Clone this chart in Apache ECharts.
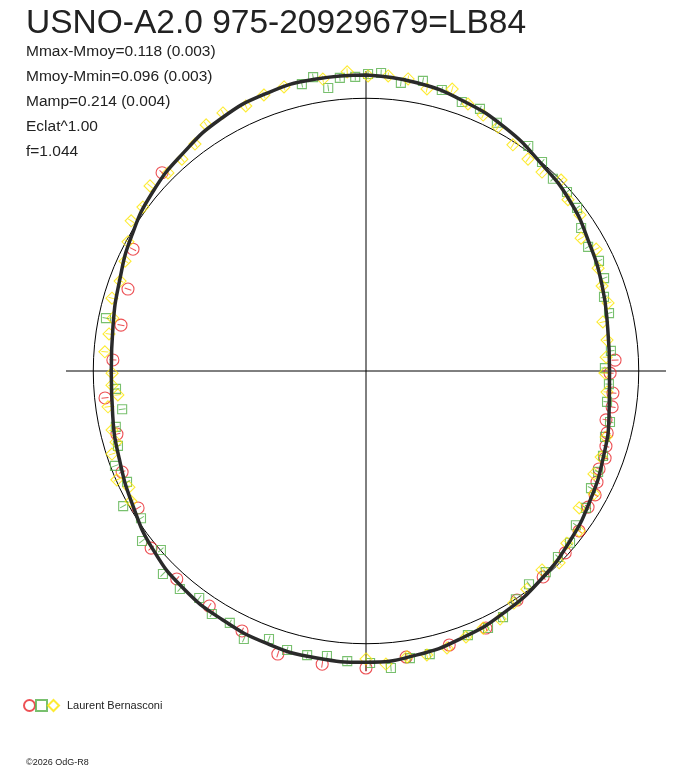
<!DOCTYPE html>
<html>
<head>
<meta charset="utf-8">
<script src="https://cdn.jsdelivr.net/npm/echarts@6/dist/echarts.min.js"></script>
<style>
  html, body { margin: 0; padding: 0; background: #fff; }
  #chart { width: 688px; height: 768px; }
</style>
</head>
<body>
<div id="chart"></div>
<script>
// texts
const titleText = "USNO-A2.0 975-20929679=LB84";
const statLines = [
  "Mmax-Mmoy=0.118 (0.003)",
  "Mmoy-Mmin=0.096 (0.003)",
  "Mamp=0.214 (0.004)",
  "Eclat^1.00",
  "f=1.044"
];
const observer = "Laurent Bernasconi";
const copyright = "\u00a92026 OdG-R8";

// fitted curve: phase angle (deg, clockwise from top) and radius (ref circle = 100)
const curvePhase = [0, 10, 20, 30, 40, 50, 60, 70, 80, 90, 100, 110, 120, 130, 140, 150, 160, 170, 180,
  190, 200, 210, 220, 230, 240, 250, 260, 270, 280, 290, 300, 310, 320, 330, 340, 350, 360];
const curveRadius = [108.5, 107.3, 105.2, 102.7, 99.6, 97.4, 94.4, 92.1, 90.0, 89.3, 90.5, 92.6, 94.9, 97.4,
  99.8, 102.0, 104.0, 105.8, 106.8, 106.8, 106.3, 105.3, 104.1, 101.9, 98.7, 96.1, 94.3, 93.4, 94.2, 96.2,
  99.2, 102.1, 104.3, 106.7, 108.1, 108.6, 108.5];

// observations: [phase angle, radius]
const redObs = [
  [314.2, 104.3], [297.6, 96.4], [289.0, 92.3], [280.6, 91.4], [272.5, 92.9], [264.1, 96.2], [255.8, 94.2],
  [247.5, 96.8], [239.0, 97.5], [230.5, 102.1], [222.3, 103.1], [213.7, 103.6], [205.5, 105.6], [197.3, 108.7],
  [188.5, 108.7], [180.0, 108.9], [172.0, 105.9], [163.1, 105.0], [155.0, 104.0], [146.6, 100.6], [139.3, 99.6],
  [132.4, 98.9], [126.9, 97.7], [121.5, 95.5], [118.4, 95.5], [115.7, 94.0], [112.8, 92.7], [110.0, 93.3],
  [107.4, 92.2], [104.4, 91.3], [101.5, 89.8], [98.3, 91.2], [95.1, 90.9], [90.5, 89.5], [87.5, 91.4]
];
const greenObs = [
  [347.4, 107.8], [349.8, 109.5], [352.4, 104.7], [354.9, 107.9], [357.9, 107.9], [0.4, 108.9], [2.9, 109.4],
  [6.9, 106.4], [11.1, 108.4], [15.1, 106.7], [19.6, 104.7], [23.5, 104.8], [27.8, 102.9], [344.6, 110.3],
  [35.8, 101.7], [40.1, 100.2], [44.2, 98.3], [48.3, 98.7], [52.3, 97.8], [56.4, 94.7], [60.8, 93.3],
  [64.7, 94.5], [68.7, 93.7], [72.7, 91.4], [76.6, 91.6], [85.3, 90.1], [89.3, 87.6], [93.1, 89.2],
  [97.3, 89.1], [101.8, 91.4], [105.4, 90.9], [109.7, 92.3], [113.5, 92.8], [117.5, 93.0], [121.9, 95.0],
  [126.3, 95.5], [130.1, 97.8], [134.1, 98.0], [138.2, 98.9], [142.6, 98.4], [146.7, 100.1], [150.9, 103.3],
  [154.6, 104.3], [158.9, 103.8], [167.3, 106.4], [171.3, 106.5], [175.2, 109.3], [179.2, 107.1],
  [183.7, 106.6], [187.8, 105.5], [191.7, 106.4], [195.8, 106.3], [199.9, 104.5], [204.5, 108.0],
  [208.4, 105.0], [212.4, 105.5], [216.3, 103.3], [220.5, 105.1], [225.0, 105.3], [228.9, 99.8],
  [232.8, 103.1], [236.8, 98.6], [240.9, 101.9], [245.1, 96.6], [249.3, 98.4], [253.2, 95.0], [257.4, 94.0],
  [261.1, 90.5], [265.9, 91.9], [281.5, 97.3]
];
const yellowObs = [
  [319.0, 102.9], [315.0, 102.7], [310.6, 104.3], [306.3, 101.5], [302.6, 102.2], [298.5, 99.3], [294.5, 97.1],
  [290.1, 96.0], [286.0, 96.9], [281.8, 94.8], [278.2, 95.2], [274.2, 96.0], [269.5, 93.1], [266.8, 93.3],
  [264.5, 91.4], [262.1, 95.5], [256.9, 95.6], [254.1, 95.3], [251.9, 98.0], [246.4, 99.7], [243.9, 96.8],
  [241.0, 98.5], [323.0, 104.2], [327.0, 107.6], [331.0, 108.2], [335.6, 106.7], [339.7, 107.9], [343.9, 108.4],
  [347.7, 110.3], [351.6, 108.2], [356.4, 109.9], [0.4, 108.2], [4.3, 108.5], [8.2, 108.2], [12.2, 105.8],
  [17.0, 108.1], [20.9, 104.8], [24.6, 103.2], [28.4, 101.7], [33.0, 98.9], [37.4, 97.8], [41.5, 97.4],
  [45.6, 100.1], [49.7, 97.1], [53.9, 97.1], [58.3, 92.7], [62.1, 95.5], [66.1, 93.1], [70.2, 92.0],
  [74.3, 92.2], [78.3, 88.7], [82.7, 89.1], [86.7, 88.2], [90.5, 87.6], [95.0, 88.7], [105.4, 91.3],
  [110.1, 91.8], [114.3, 91.7], [118.3, 95.0], [122.7, 92.9], [126.9, 97.7], [130.6, 97.0], [134.8, 99.8],
  [138.5, 97.4], [143.6, 99.4], [147.5, 100.9], [151.6, 103.4], [155.5, 103.6], [159.4, 104.2], [163.7, 105.8],
  [167.9, 106.5], [171.8, 105.9], [176.1, 107.7], [180.0, 105.6]
];

const RED = "#e8262b", GREEN = "#56b04a", YELLOW = "#fce600";
const R = 300, RMAX = 110;

const toPolar = (obs) => obs.map(([a, r]) => [r, a]);

function markerSeries(name, obs, symbol, size, color) {
  return {
    name: name,
    type: "scatter",
    coordinateSystem: "polar",
    polarIndex: 0,
    symbol: symbol,
    symbolSize: size,
    itemStyle: { color: "rgba(0,0,0,0)", borderColor: color, borderWidth: 1.1 },
    data: toPolar(obs),
    z: 2,
    silent: true
  };
}

// short radial tick through each marker
function tickSeries(obs, color) {
  return {
    type: "scatter",
    coordinateSystem: "polar",
    polarIndex: 0,
    symbol: "rect",
    symbolSize: [1, 7],
    symbolRotate: (v) => -v[1],
    itemStyle: { color: color },
    data: toPolar(obs),
    z: 2,
    silent: true
  };
}

const chart = echarts.init(document.getElementById("chart"), null, { renderer: "canvas" });

const option = {
  animation: false,
  backgroundColor: "#fff",
  textStyle: { fontFamily: "Liberation Sans, Arial, sans-serif" },
  title: [
    {
      text: titleText,
      left: 26, top: 7,
      padding: 0,
      textStyle: { fontSize: 33.5, fontWeight: "normal", color: "#222", lineHeight: 33 }
    },
    {
      text: statLines.join("\n"),
      left: 26, top: 39,
      padding: 0,
      textStyle: { fontSize: 15.5, fontWeight: "normal", color: "#222", lineHeight: 25 }
    },
    {
      text: observer,
      left: 67, top: 700,
      padding: 0,
      textStyle: { fontSize: 11, fontWeight: "normal", color: "#222", lineHeight: 12 }
    },
    {
      text: copyright,
      left: 26, top: 758,
      padding: 0,
      textStyle: { fontSize: 9, fontWeight: "normal", color: "#222", lineHeight: 10 }
    }
  ],
  legend: {
    left: 23, top: 699,
    padding: 0,
    itemWidth: 11, itemHeight: 11, itemGap: -1,
    formatter: () => "",
    data: ["Session 1", "Session 2", "Session 3"],
    selectedMode: false
  },
  polar: [
    { center: [366, 371], radius: R },
    { center: [366, 371], radius: R * 100 / RMAX }
  ],
  angleAxis: [
    {
      polarIndex: 0, type: "value", min: 0, max: 360, interval: 90,
      startAngle: 90, clockwise: true,
      axisLine: { show: false }, axisTick: { show: false }, axisLabel: { show: false },
      splitLine: { show: true, lineStyle: { color: "#000", width: 1 } }
    },
    {
      polarIndex: 1, type: "value", min: 0, max: 360,
      startAngle: 90, clockwise: true,
      axisLine: { show: true, lineStyle: { color: "#000", width: 1 } },
      axisTick: { show: false }, axisLabel: { show: false }, splitLine: { show: false }
    }
  ],
  radiusAxis: [
    {
      polarIndex: 0, type: "value", min: 0, max: RMAX,
      axisLine: { show: false }, axisTick: { show: false }, axisLabel: { show: false },
      splitLine: { show: false }
    },
    {
      polarIndex: 1, type: "value", min: 0, max: 100,
      axisLine: { show: false }, axisTick: { show: false }, axisLabel: { show: false },
      splitLine: { show: false }
    }
  ],
  series: [
    markerSeries("Session 1", redObs, "circle", 12, RED),
    markerSeries("Session 2", greenObs, "rect", 9, GREEN),
    markerSeries("Session 3", yellowObs, "diamond", 12, YELLOW),
    tickSeries(redObs, RED),
    tickSeries(greenObs, GREEN),
    tickSeries(yellowObs, YELLOW),
    {
      type: "line",
      coordinateSystem: "polar",
      polarIndex: 0,
      smooth: true,
      showSymbol: false,
      lineStyle: { color: "#2a2a2a", width: 3.5 },
      data: curvePhase.map((a, i) => [curveRadius[i], a]),
      z: 3,
      silent: true
    }
  ]
};

chart.setOption(option);
window.addEventListener("resize", () => chart.resize());
</script>
</body>
</html>
